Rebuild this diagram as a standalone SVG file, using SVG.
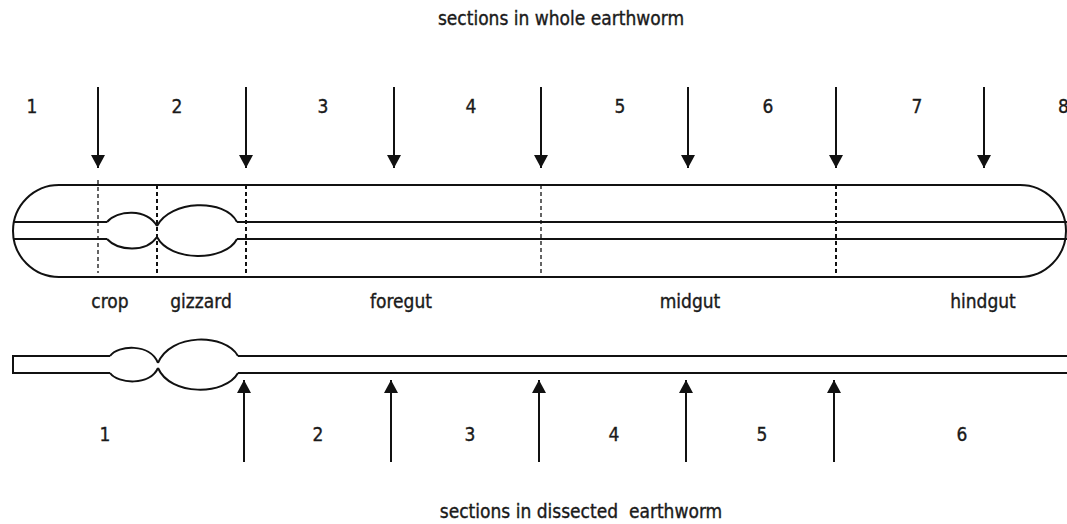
<svg xmlns="http://www.w3.org/2000/svg" width="1067" height="524" viewBox="0 0 1067 524">
  <style>
    .txt { font-family: "DejaVu Sans Condensed", "DejaVu Sans", sans-serif; font-size: 19px; fill: #1a1a1a; stroke: #1a1a1a; stroke-width: 0.35; text-anchor: middle; }
    .line { fill: none; stroke: #111; stroke-width: 2; }
    .dash { fill: none; stroke: #111; stroke-width: 2; stroke-dasharray: 4 3; }
    .dash-thin { fill: none; stroke: #111; stroke-width: 1.3; stroke-dasharray: 4 3; }
    .arrow { stroke: #111; stroke-width: 2; fill: none; }
  </style>
  <defs>
    <marker id="head" viewBox="0 0 13 14" refX="13" refY="7" markerWidth="13" markerHeight="14" markerUnits="userSpaceOnUse" orient="auto">
      <path d="M0,0 L13,7 L0,14 Z" fill="#111"/>
    </marker>
  </defs>
  <rect width="1067" height="524" fill="#fff"/>

  <!-- headings -->
  <text class="txt" x="561" y="25">sections in whole earthworm</text>
  <text class="txt" x="581" y="518" xml:space="preserve">sections in dissected  earthworm</text>

  <!-- whole earthworm body -->
  <g id="whole-worm">
    <rect x="13" y="185" width="1053" height="92" rx="46" ry="46" class="line"/>
    <path class="line" d="M13,222 L107,222 M237,222 L1067,222 M13,239 L107,239 M237,239 L1067,239"/>
    <!-- crop -->
    <path class="line" d="M107,222 C118,210 146,208 157,226 M107,239 C118,251 146,253 157,237"/>
    <!-- gizzard -->
    <path class="line" d="M157,226 C170,200 225,198 237,222 M157,237 C170,262 225,262 237,239"/>
    <!-- section boundaries -->
    <line class="dash-thin" x1="98" y1="180" x2="98" y2="273"/>
    <line class="dash" x1="157" y1="185" x2="157" y2="277"/>
    <line class="dash" x1="246" y1="185" x2="246" y2="277"/>
    <line class="dash-thin" x1="541" y1="185" x2="541" y2="277"/>
    <line class="dash" x1="836" y1="185" x2="836" y2="277"/>
  </g>

  <!-- gut region labels -->
  <g id="labels">
    <text class="txt" x="110" y="308">crop</text>
    <text class="txt" x="201" y="308">gizzard</text>
    <text class="txt" x="401" y="308">foregut</text>
    <text class="txt" x="690" y="308">midgut</text>
    <text class="txt" x="983" y="308">hindgut</text>
  </g>

  <!-- dissected earthworm gut -->
  <g id="dissected-worm">
    <path class="line" d="M110,356 L13,356 L13,373 L110,373 M238,356 L1067,356 M238,373 L1067,373"/>
    <path class="line" d="M110,356 C118,345 150,343 158,363 M110,373 C118,384 150,386 158,368"/>
    <path class="line" d="M158,363 C170,333 225,333 238,356 M158,368 C170,396 225,396 238,373"/>
  </g>

  <!-- section numbers -->
  <g id="top-numbers">
    <text class="txt" x="32" y="113">1</text>
    <text class="txt" x="177" y="113">2</text>
    <text class="txt" x="323" y="113">3</text>
    <text class="txt" x="471" y="113">4</text>
    <text class="txt" x="620" y="113">5</text>
    <text class="txt" x="768" y="113">6</text>
    <text class="txt" x="917" y="113">7</text>
    <text class="txt" x="1058" y="113" style="text-anchor:start">8</text>
  </g>
  <g id="bottom-numbers">
    <text class="txt" x="105" y="441">1</text>
    <text class="txt" x="318" y="441">2</text>
    <text class="txt" x="470" y="441">3</text>
    <text class="txt" x="614" y="441">4</text>
    <text class="txt" x="762" y="441">5</text>
    <text class="txt" x="962" y="441">6</text>
  </g>

  <!-- section arrows -->
  <g id="connectors">
    <line class="arrow" x1="98" y1="87" x2="98" y2="168" marker-end="url(#head)"/>
    <line class="arrow" x1="246" y1="87" x2="246" y2="168" marker-end="url(#head)"/>
    <line class="arrow" x1="394" y1="87" x2="394" y2="168" marker-end="url(#head)"/>
    <line class="arrow" x1="541" y1="87" x2="541" y2="168" marker-end="url(#head)"/>
    <line class="arrow" x1="688" y1="87" x2="688" y2="168" marker-end="url(#head)"/>
    <line class="arrow" x1="836" y1="87" x2="836" y2="168" marker-end="url(#head)"/>
    <line class="arrow" x1="984" y1="87" x2="984" y2="168" marker-end="url(#head)"/>

    <line class="arrow" x1="244" y1="462" x2="244" y2="380" marker-end="url(#head)"/>
    <line class="arrow" x1="391" y1="462" x2="391" y2="380" marker-end="url(#head)"/>
    <line class="arrow" x1="539" y1="462" x2="539" y2="380" marker-end="url(#head)"/>
    <line class="arrow" x1="686" y1="462" x2="686" y2="380" marker-end="url(#head)"/>
    <line class="arrow" x1="834" y1="462" x2="834" y2="380" marker-end="url(#head)"/>
  </g>
</svg>
